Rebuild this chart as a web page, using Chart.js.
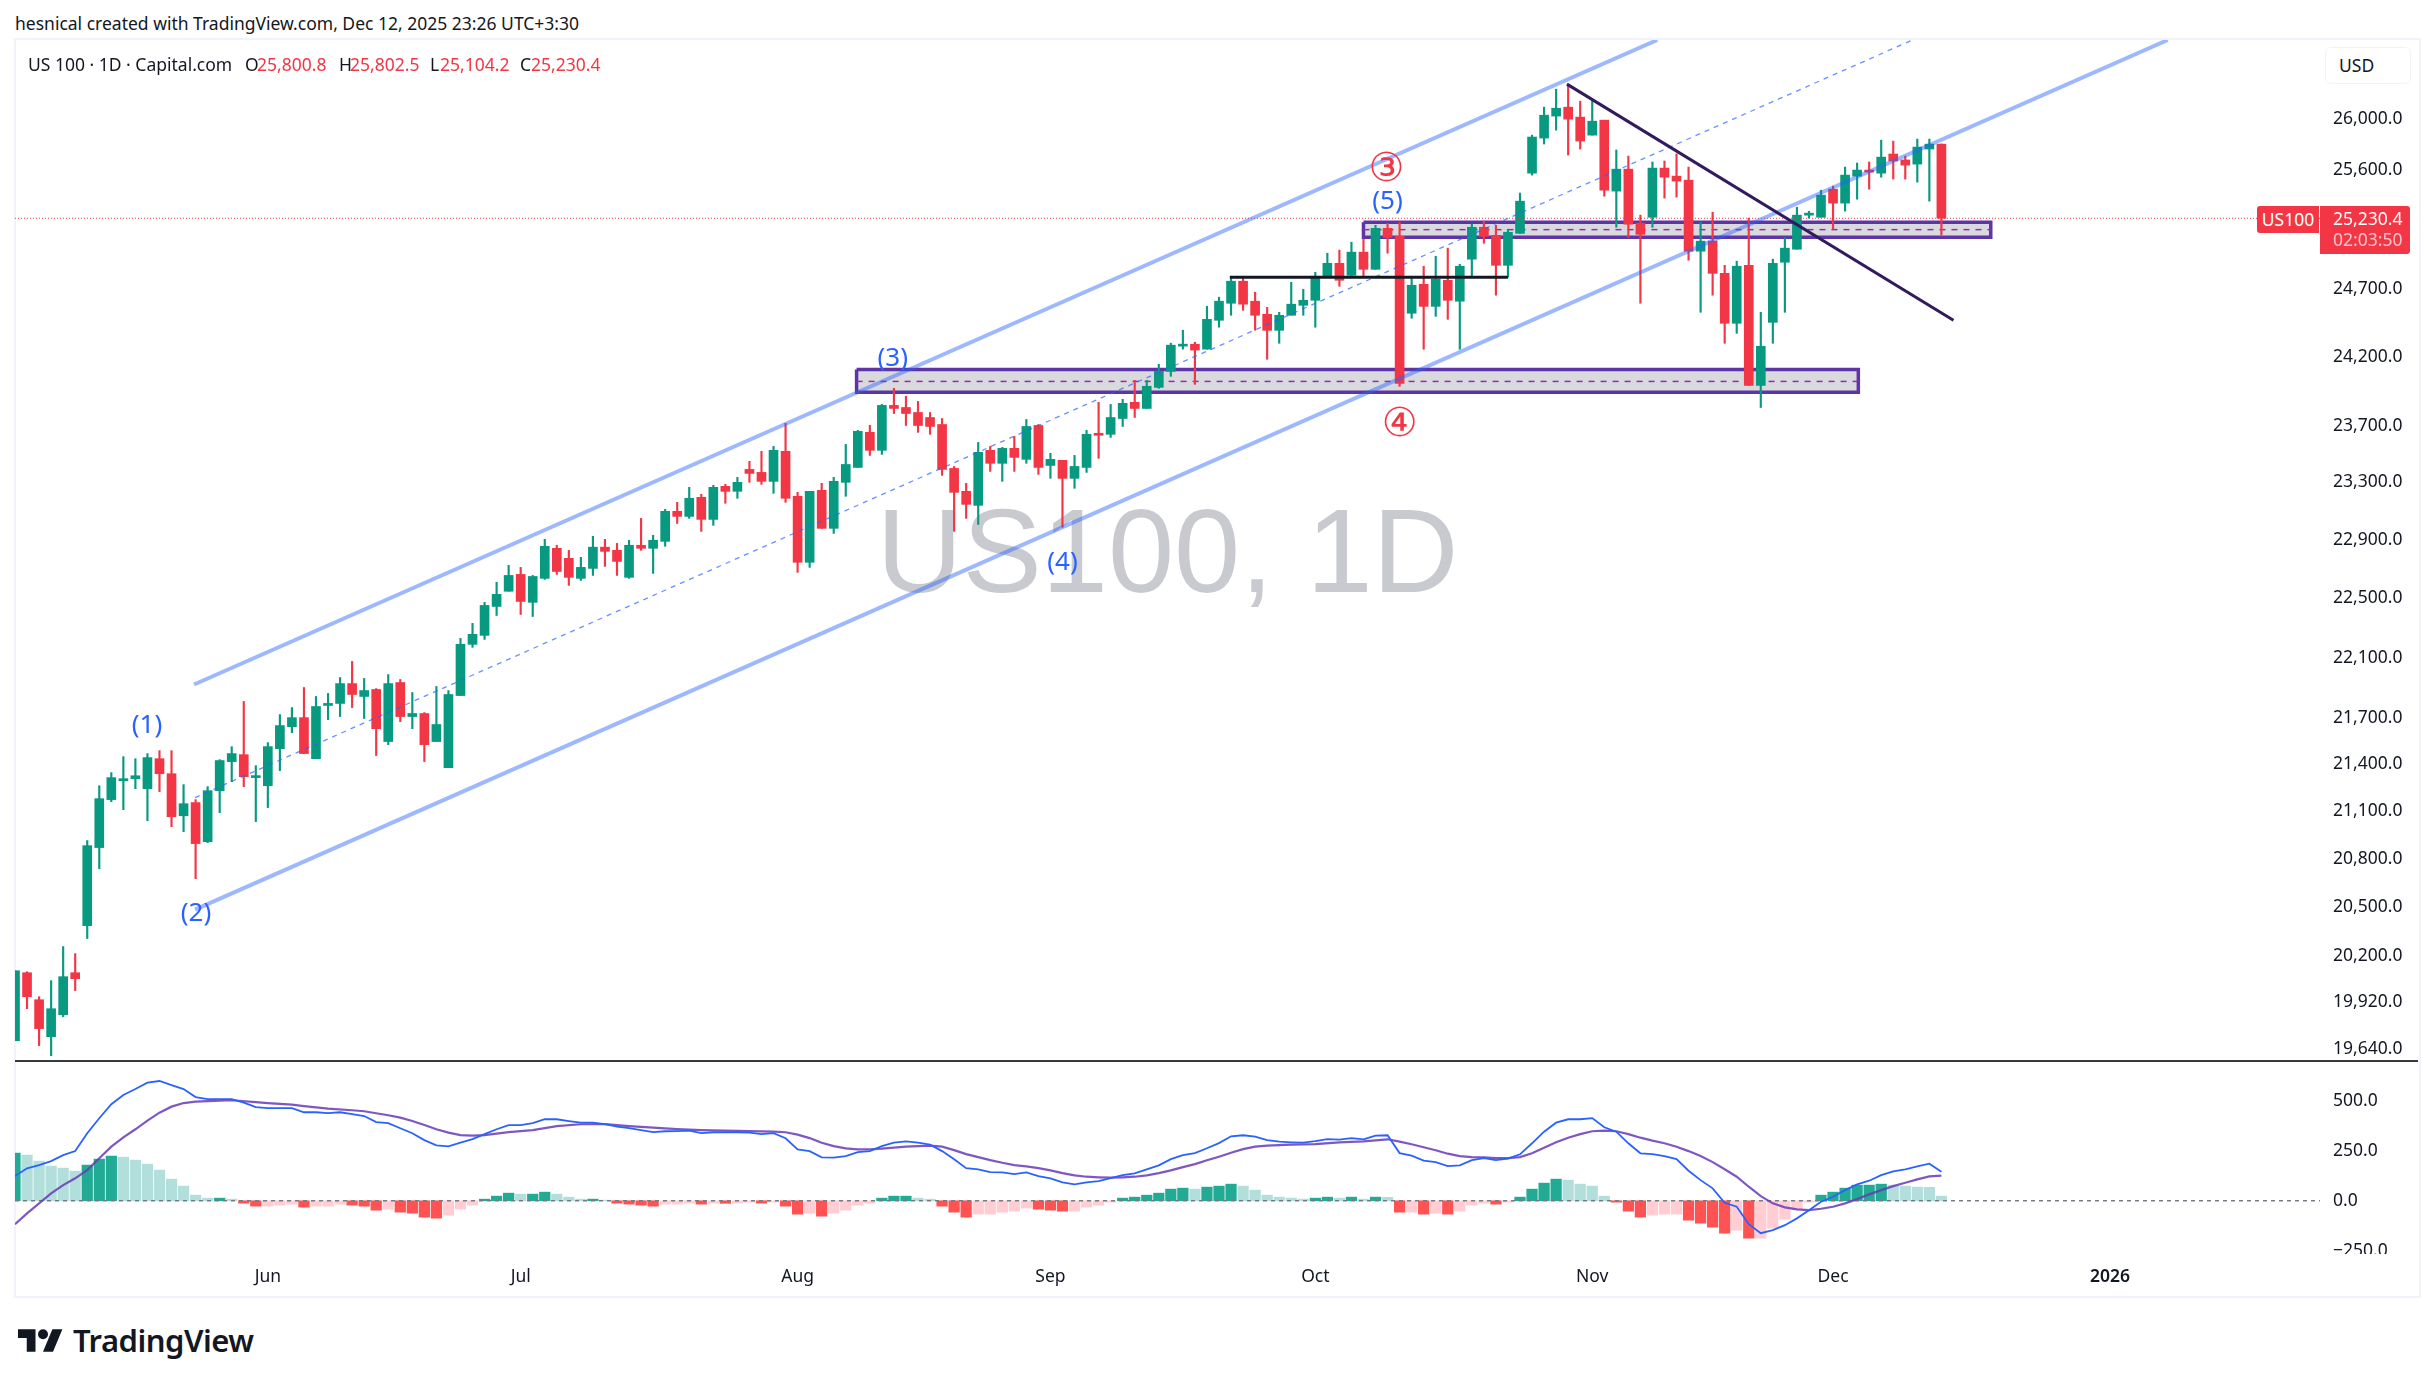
<!DOCTYPE html>
<html>
<head>
<meta charset="utf-8">
<title>US100, 1D</title>
<script src="https://cdn.jsdelivr.net/npm/chart.js@4/dist/chart.umd.js"></script>
<style>
  html, body { margin: 0; padding: 0; background: #fff; }
  body { position: relative; width: 2433px; height: 1386px; overflow: hidden; font-family: "Noto Sans", sans-serif; color: #131722; }
  .abs { position: absolute; white-space: nowrap; }
  .txt { font-size: 17.5px; line-height: 24px; }
  .red { color: #f23645; }
  #frame { left: 14px; top: 38px; width: 2403px; height: 1256px; border: 2px solid #f0f3fa; }
  #watermark { left: 15px; top: 40px; width: 2305px; height: 1021px; line-height: 1021px; text-align: center; font-family: "Liberation Sans", sans-serif; font-size: 119px; color: rgba(120,123,134,0.4); }
  canvas { position: absolute; }
  #priceChart { left: 15px; top: 40px; }
  #macdChart { left: 15px; top: 1062px; }
  #divider { left: 15px; top: 1060px; width: 2403px; height: 2px; background: #363a45; }
  #usd { left: 2325px; top: 47px; width: 86px; height: 37px; border: 1px solid #f0f3fa; border-radius: 6px; box-sizing: border-box; background: #fff; }
  #lastName { left: 2257px; top: 206px; width: 62px; height: 27px; background: #f23645; color: #fff; border-radius: 3px 0 0 3px; text-align: center; line-height: 27px; font-size: 17.5px; }
  #lastBox { left: 2320px; top: 206px; width: 90px; height: 48px; background: #f23645; border-radius: 0 3px 3px 0; }
  #logo { left: 18px; top: 1329px; }
  #logoText { left: 73px; top: 1318px; font-size: 31px; line-height: 44px; font-weight: 600; letter-spacing: -0.5px; }
</style>
</head>
<body>
<div class="abs" id="frame"></div>
<div class="abs" id="watermark">US100, 1D</div>
<canvas id="priceChart" width="2403" height="1021"></canvas>
<canvas id="macdChart" width="2403" height="233"></canvas>
<div class="abs" id="divider"></div>

<div class="abs txt" style="left:15px;top:11px">hesnical created with TradingView.com, Dec 12, 2025 23:26 UTC+3:30</div>
<div class="abs txt" style="left:28px;top:52px">US 100 · 1D · Capital.com</div>
<div class="abs txt" style="left:245px;top:52px">O</div><div class="abs txt red" style="left:257px;top:52px">25,800.8</div>
<div class="abs txt" style="left:339px;top:52px">H</div><div class="abs txt red" style="left:350px;top:52px">25,802.5</div>
<div class="abs txt" style="left:430px;top:52px">L</div><div class="abs txt red" style="left:440px;top:52px">25,104.2</div>
<div class="abs txt" style="left:520px;top:52px">C</div><div class="abs txt red" style="left:531px;top:52px">25,230.4</div>

<div class="abs" id="usd"></div>
<div class="abs txt" style="left:2339px;top:53px">USD</div>
<div class="abs" id="lastName">US100</div>
<div class="abs" id="lastBox"></div>
<div class="abs txt" style="left:2333px;top:206px;color:#fff">25,230.4</div>
<div class="abs txt" style="left:2333px;top:227px;color:#fcc3c8">02:03:50</div>

<svg class="abs" id="logo" width="45" height="23" viewBox="0 4 36 18"><path fill="#131722" d="M14 22H7V11H0V4h14v18zM28 22h-8l7.5-18h8L28 22z"/><circle fill="#131722" cx="20" cy="8" r="4"/></svg>
<div class="abs" id="logoText">TradingView</div>

<script>
// Candles, one entry per daily bar
const opens = [19688,20096,19933,19712,19843,20096,20383,20869,21173,21294,21307,21243,21436,21339,21070,21154,20906,21230,21417,21462,21314,21262,21501,21644,21703,21436,21783,21796,21927,21842,21888,21547,21934,21710,21730,21547,21378,21848,22188,22248,22443,22546,22661,22471,
  22634,22840,22771,22634,22702,22848,22826,22641,22861,22840,22888,23096,23061,23194,23040,23271,23236,23390,23369,23306,23518,23201,22744,23243,22978,23299,23404,23653,23525,23846,23831,23795,23759,23709,23397,23236,23138,23525,23433,23539,23461,23702,23418,23454,23327,23404,23639,23639,23752,23868,23824,23976,24092,24276,24290,24254,24466,24592,24756,24607,24510,24392,24503,24577,24614,24786,24890,24800,24974,24845,25154,25093,
  24518,24733,24569,24763,24607,24921,25162,25101,24875,25116,25576,25848,26020,26090,26012,25871,25988,25438,25607,25193,25238,25615,25553,25522,24981,25057,24815,24444,24875,23990,24451,24898,24996,25254,25238,25453,25346,25553,25600,25576,25724,25678,25646,25763,25800.8];
const highs = [20108,20102,19951,20048,20255,20212,20913,21262,21346,21449,21436,21469,21488,21488,21269,21173,21256,21430,21514,21809,21391,21540,21723,21769,21901,21842,21862,21967,22074,21961,21894,21987,21954,21868,21736,21908,21881,22228,22329,22471,22607,22723,22709,22654,
  22902,22861,22826,22778,22923,22902,22874,22895,23047,22930,23110,23159,23264,23215,23278,23285,23334,23447,23518,23553,23717,23229,23236,23292,23334,23567,23667,23703,23853,23969,23911,23875,23795,23752,23411,23292,23581,23553,23546,23624,23745,23709,23504,23454,23489,23667,23868,23853,23890,24027,24027,24143,24298,24393,24305,24569,24637,24786,24786,24674,24562,24525,24748,24696,24823,24966,24989,25049,25072,25177,25192,25200,
  24786,24868,24943,25004,24883,25185,25208,25177,25147,25423,25871,26090,26232,26272,26137,26137,25988,25755,25708,25254,25662,25670,25725,25623,25200,25277,24875,24906,25231,24525,24921,25080,25315,25284,25445,25476,25623,25654,25662,25832,25824,25708,25840,25840,25802.5];
const lows = [19688,19879,19659,19599,19831,19988,20304,20736,21160,21109,21243,21039,21224,21001,20969,20674,20900,21090,21288,21256,21033,21122,21359,21605,21469,21436,21690,21710,21769,21697,21456,21527,21677,21631,21417,21547,21378,21848,22168,22221,22382,22546,22389,22375,
  22627,22661,22586,22620,22654,22716,22654,22634,22826,22668,22854,23012,23047,22957,22999,23152,23187,23299,23285,23222,23159,22675,22709,22978,22943,23201,23404,23489,23496,23788,23702,23653,23639,23348,22957,23047,23005,23376,23306,23376,23433,23355,23327,22985,23257,23369,23468,23617,23695,23759,23824,23969,24056,24254,23998,24254,24415,24503,24540,24393,24180,24297,24503,24503,24415,24786,24718,24800,24786,24845,24966,23983,
  24481,24253,24495,24473,24253,24793,25041,24652,24786,25116,25561,25802,25910,25716,25763,25871,25399,25162,25085,24592,25162,25384,25392,24913,24525,24652,24297,24370,23990,23831,24297,24525,24996,25231,25238,25147,25285,25376,25453,25545,25530,25530,25507,25361,25104.2];
const closes = [20108,19951,19760,19879,20072,20060,20881,21179,21314,21307,21326,21443,21339,21064,21147,20894,21230,21424,21469,21320,21320,21514,21651,21703,21469,21776,21796,21927,21855,21881,21631,21927,21710,21730,21527,21658,21855,22188,22255,22450,22525,22654,22477,22647,
  22854,22681,22641,22709,22848,22819,22750,22861,22840,22895,23096,23061,23187,23040,23264,23236,23299,23362,23306,23525,23187,22744,23236,22978,23306,23425,23660,23525,23846,23824,23788,23702,23695,23390,23229,23145,23511,23433,23539,23475,23695,23404,23461,23327,23411,23639,23632,23759,23861,23824,23984,24092,24283,24283,24247,24473,24607,24756,24585,24503,24392,24503,24585,24614,24793,24890,24763,24974,24845,25154,25085,24005,
  24726,24569,24771,24614,24868,25162,25093,24875,25124,25361,25856,26027,26082,25996,25825,25980,25445,25607,25185,25108,25615,25545,25515,24981,25057,24815,24444,24868,23990,24275,24890,25004,25254,25261,25407,25346,25561,25600,25584,25700,25670,25638,25778,25801,25230.4];

// MACD pane
const histogram = [238,228,198,173,163,148,178,208,223,218,203,183,153,108,73,28,13,13,8,-12,-27,-27,-22,-17,-32,-27,-27,-17,-22,-27,-47,-42,-57,-62,-82,-87,-72,-42,-22,8,23,38,33,33,43,33,18,8,8,3,-12,-17,-22,-27,-17,-17,-12,-17,-12,-13,-12,-7,-12,-7,-27,-67,-62,
  -77,-62,-47,-22,-12,13,23,23,13,8,-27,-57,-82,-67,-67,-57,-52,-37,-42,-47,-52,-52,-32,-22,-7,13,18,28,38,58,63,58,68,73,83,73,53,28,18,13,8,13,18,13,18,8,18,17,-57,-57,-67,-62,-67,-52,-22,-12,-17,-7,18,58,88,108,103,83,73,23,-7,
  -52,-82,-72,-67,-67,-97,-112,-132,-162,-147,-187,-187,-137,-92,-42,-7,28,43,63,78,78,83,78,73,68,67,23];
const macdLine = [123,162,178,198,228,248,337,412,482,528,558,590,598,578,558,518,508,508,508,490,468,463,463,463,442,442,438,442,433,423,393,388,362,337,303,277,272,290,308,333,357,378,378,388,408,407,398,390,390,383,370,363,353,343,347,348,350,338,342,342,342,340,333,338,312,257,248,
  217,215,223,243,248,273,290,297,290,280,248,207,163,157,143,142,133,142,123,112,92,82,92,98,113,128,137,157,177,208,228,238,262,288,322,327,320,303,295,292,290,298,308,305,313,307,325,327,238,225,200,193,173,177,203,213,203,210,232,287,345,390,407,407,413,367,345,
  287,237,233,223,208,150,103,62,-10,-30,-117,-162,-147,-122,-88,-47,-5,20,53,82,100,128,147,157,172,185,145];
// signal line is smooth, so only the bars where it could be read are listed
const signalBars = [0,1,2,3,4,5,6,7,8,9,10,11,12,13,14,15,16,18,20,21,23,24,26,28,29,30,31,32,33,34,35,36,37,38,39,40,41,43,45,47,49,51,53,55,57,59,61,63,64,65,66,67,68,69,70,71,72,73,74,75,76,77,78,79,80,81,82,83,84,85,86,87,88,89,90,91,92,93,94,95,96,97,98,99,100,101,102,103,104,106,108,110,112,114,115,116,117,118,119,120,121,122,123,124,125,126,127,128,129,130,131,132,133,134,135,136,137,138,139,140,141,142,143,144,145,146,147,148,149,150,151,152,153,154,155,156,157,158,159,160];
const signalLine = [-117,-63,-13,37,78,112,153,212,270,317,357,400,440,470,488,495,498,502,493,488,480,473,460,452,447,437,427,415,398,378,357,340,328,325,328,335,343,353,373,382,383,373,365,358,353,350,348,345,342,330,313,290,273,262,257,257,260,265,270,273,275,270,253,233,218,203,190,178,172,163,152,138,127,120,117,115,117,120,127,138,152,168,183,202,220,240,258,270,275,280,283,292,297,307,295,282,267,252,235,223,218,217,213,213,218,237,265,292,315,333,347,350,347,333,315,300,287,270,248,223,193,157,120,70,23,-13,-33,-43,-47,-40,-30,-13,8,32,53,73,90,107,122,125];

// Axis ticks
const priceTicks = [26000,25600,24700,24200,23700,23300,22900,22500,22100,21700,21400,21100,20800,20500,20200,19920,19640];
const macdTicks = [500,250,0,-250];
const monthBars = [21,42,65,86,108,131,151,174];
const monthLabels = ['Jun','Jul','Aug','Sep','Oct','Nov','Dec','2026'];

// Drawings on the price pane, as [bar, price]
const channelUpper = [[14.87,21921],[136.4,26624]];
const channelLower = [[14.95,20482],[178.8,26624]];
const channelMiddle = [[14.95,21186],[157.6,26624]];
const trendLine = [[128.9,26272],[161,24466]];
const flatLine = [[100.9,24785],[124,24785]];
const zoneLower = { from: 69.9, to: 153.1, top: 24106, bottom: 23940, mid: 24019 };
const zoneUpper = { from: 112, to: 164.1, top: 25200, bottom: 25087, mid: 25144 };
const lastPrice = 25230.4;

// Wave labels
const blueWaves = ['(1)','(2)','(3)','(4)','(5)'];
const blueWaveBars = [10.96,15.03,72.9,87,114];
const blueWavePrices = [21651,20457,24187,22743,25354];
const redWaves = ['③','④'];
const redWaveBars = [113.9,115];
const redWavePrices = [25592,23702];

const GREEN = '#089981', RED = '#f23645';
const BAR_STEP = 12.04;
const PLOT_WIDTH = 2305;
const xMax = PLOT_WIDTH / BAR_STEP;
const FONT = '"Noto Sans", sans-serif';

const toXY = pts => pts.map(p => ({ x: p[0], y: p[1] }));
const barColor = i => closes[i] >= opens[i] ? GREEN : RED;

function drawLine(pts, color, width, order, dash) {
  return { type: 'line', data: toXY(pts), borderColor: color, borderWidth: width, borderDash: dash || [], pointRadius: 0, tension: 0, fill: false, order: order };
}

function zoneShape(z) {
  return {
    type: 'line',
    data: toXY([[z.from,z.top],[z.to,z.top],[z.to,z.bottom],[z.from,z.bottom],[z.from,z.top]]),
    borderColor: '#5e35a6', borderWidth: 3.5, pointRadius: 0, tension: 0,
    backgroundColor: 'rgba(120,123,134,0.28)', fill: 'shape', borderJoinStyle: 'miter', order: 30
  };
}

// the scale adds room for its first and last labels, the panes have none
function fixAxisWidth(s) {
  s.width = 98;
  s.paddingTop = 0;
  s.paddingBottom = 0;
}

const candleWicks = {
  type: 'bar', grouped: false, barThickness: 1.5, minBarLength: 1, order: 21,
  data: highs.map((h, i) => ({ x: i, y: [lows[i], h] })),
  backgroundColor: ctx => barColor(ctx.dataIndex)
};
const candleBodies = {
  type: 'bar', grouped: false, barThickness: 9, minBarLength: 2, order: 20,
  data: opens.map((o, i) => ({ x: i, y: [o, closes[i]] })),
  backgroundColor: ctx => barColor(ctx.dataIndex)
};

// wave labels follow the price scale
const waveLabels = {
  id: 'waveLabels',
  afterDatasetsDraw(chart) {
    const { ctx, scales: { x, y } } = chart;
    ctx.save();
    ctx.textAlign = 'center';
    ctx.textBaseline = 'middle';
    ctx.fillStyle = '#2962ff';
    ctx.font = '26px ' + FONT;
    blueWaves.forEach((t, i) => ctx.fillText(t, x.getPixelForValue(blueWaveBars[i]), y.getPixelForValue(blueWavePrices[i])));
    ctx.fillStyle = RED;
    ctx.font = '40px "DejaVu Sans"';
    redWaves.forEach((t, i) => ctx.fillText(t, x.getPixelForValue(redWaveBars[i]), y.getPixelForValue(redWavePrices[i])));
    ctx.restore();
  }
};

new Chart(document.getElementById('priceChart').getContext('2d'), {
  type: 'bar',
  data: {
    datasets: [
      drawLine([[0,lastPrice],[xMax,lastPrice]], RED, 1, 5, [1,2]),
      drawLine(channelUpper, 'rgba(41,98,255,0.45)', 4, 4),
      drawLine(channelLower, 'rgba(41,98,255,0.45)', 4, 4),
      drawLine(channelMiddle, 'rgba(41,98,255,0.7)', 1.3, 4, [5,5]),
      drawLine(trendLine, '#311b5e', 3, 3),
      drawLine(flatLine, '#131722', 3, 3),
      candleBodies,
      candleWicks,
      zoneShape(zoneLower),
      zoneShape(zoneUpper),
      drawLine([[zoneLower.from,zoneLower.mid],[zoneLower.to,zoneLower.mid]], '#9c27b0', 1.5, 29, [6,6]),
      drawLine([[zoneUpper.from,zoneUpper.mid],[zoneUpper.to,zoneUpper.mid]], '#9c27b0', 1.5, 29, [6,6])
    ]
  },
  options: {
    responsive: false,
    animation: false,
    devicePixelRatio: 1,
    layout: { padding: 0, autoPadding: false },
    plugins: { legend: { display: false }, tooltip: { enabled: false } },
    scales: {
      x: { type: 'linear', display: false, min: 0, max: xMax, offset: false },
      y: {
        type: 'logarithmic', position: 'right', min: 19568, max: 26624, bounds: 'data',
        grid: { display: false, drawTicks: false },
        border: { display: false },
        afterFit: fixAxisWidth,
        afterBuildTicks: s => { s.ticks = priceTicks.map(v => ({ value: v })); },
        ticks: {
          autoSkip: false, padding: 13, color: '#131722', font: { family: FONT, size: 17.5 },
          callback: v => v.toLocaleString('en-US', { minimumFractionDigits: 1 })
        }
      }
    }
  },
  plugins: [waveLabels]
});

// -250.0 is cut off by the pane edge in the picture
const clipAxisLabel = {
  id: 'clipAxisLabel',
  afterDraw(chart) {
    const { ctx, chartArea } = chart;
    ctx.save();
    ctx.fillStyle = '#fff';
    ctx.fillRect(chartArea.right, chartArea.bottom, 98, chart.height - chartArea.bottom);
    ctx.restore();
  }
};

new Chart(document.getElementById('macdChart').getContext('2d'), {
  type: 'bar',
  data: {
    datasets: [
      drawLine(macdLine.map((v, i) => [i, v]), '#2962ff', 1.8, 1),
      drawLine(signalLine.map((v, i) => [signalBars[i], v]), 'rgba(103,58,183,0.85)', 2.2, 2),
      drawLine([[0,0],[xMax,0]], '#787b86', 1.3, 3, [4,4]),
      {
        type: 'bar', grouped: false, barThickness: 10.6, order: 4,
        data: histogram.map((v, i) => ({ x: i, y: v })),
        backgroundColor: ctx => {
          const v = histogram[ctx.dataIndex], prev = ctx.dataIndex ? histogram[ctx.dataIndex - 1] : 0;
          if (v >= 0) return v >= prev ? '#22ab94' : '#b2dfdb';
          return v < prev ? '#ff5252' : '#ffcdd2';
        }
      }
    ]
  },
  options: {
    responsive: false,
    animation: false,
    devicePixelRatio: 1,
    layout: { padding: 0, autoPadding: false },
    plugins: { legend: { display: false }, tooltip: { enabled: false } },
    scales: {
      x: {
        type: 'linear', position: 'bottom', min: 0, max: xMax, offset: false,
        grid: { display: false, drawTicks: false },
        border: { display: false },
        afterFit: s => { s.height = 41; s.paddingLeft = 0; s.paddingRight = 0; },
        afterBuildTicks: s => { s.ticks = monthBars.map(v => ({ value: v })); },
        ticks: {
          autoSkip: false, maxRotation: 0, padding: 13, color: '#131722',
          font: ctx => ({ family: FONT, size: 17.5, weight: ctx.tick && ctx.tick.value === 174 ? '600' : '400' }),
          callback: v => monthLabels[monthBars.indexOf(v)]
        }
      },
      y: {
        type: 'linear', position: 'right', min: -266, max: 693,
        grid: { display: false, drawTicks: false },
        border: { display: false },
        afterFit: fixAxisWidth,
        afterBuildTicks: s => { s.ticks = macdTicks.map(v => ({ value: v })); },
        ticks: {
          autoSkip: false, padding: 13, color: '#131722', font: { family: FONT, size: 17.5 },
          callback: v => (v < 0 ? '\u2212' + Math.abs(v) : v) + '.0'
        }
      }
    }
  },
  plugins: [clipAxisLabel]
});
</script>
</body>
</html>
